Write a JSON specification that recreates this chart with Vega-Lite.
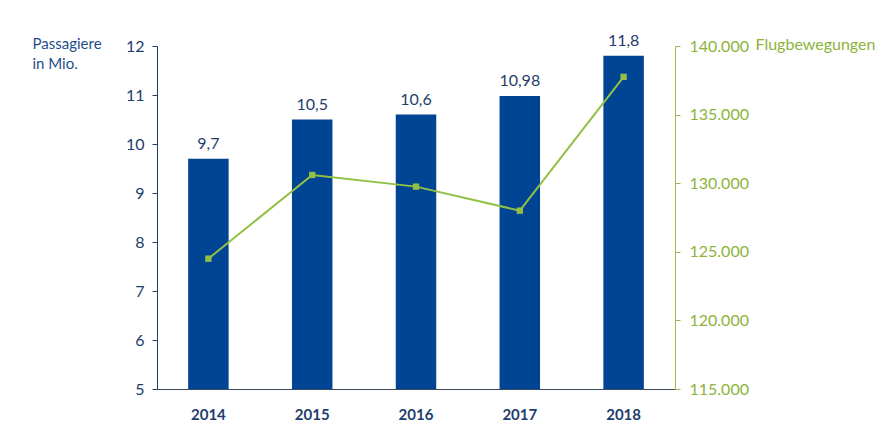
{
  "$schema": "https://vega.github.io/schema/vega-lite/v6.json",
  "autosize": "none",
  "width": 518,
  "height": 343,
  "padding": {"left": 157, "top": 46, "right": 212, "bottom": 47},
  "background": "white",
  "data": {
    "values": [
      {"Jahr": "2014", "Passagiere": 9.7, "Flugbewegungen": 124500},
      {"Jahr": "2015", "Passagiere": 10.5, "Flugbewegungen": 130600},
      {"Jahr": "2016", "Passagiere": 10.6, "Flugbewegungen": 129750},
      {"Jahr": "2017", "Passagiere": 10.98, "Flugbewegungen": 128000},
      {"Jahr": "2018", "Passagiere": 11.8, "Flugbewegungen": 137750}
    ]
  },
  "encoding": {
    "x": {
      "field": "Jahr",
      "type": "nominal",
      "scale": {"paddingInner": 0.61, "paddingOuter": 0.3},
      "axis": {
        "title": null,
        "labelAngle": 0,
        "labelFontWeight": "bold",
        "labelFontSize": 15,
        "labelColor": "#1F3D6B",
        "labelPadding": 18,
        "ticks": false,
        "domainColor": "#3A4A5E",
        "domainWidth": 1
      }
    }
  },
  "layer": [
    {
      "layer": [
        {
          "mark": {"type": "bar", "color": "#004494"},
          "encoding": {
            "y": {
              "field": "Passagiere",
              "type": "quantitative",
              "scale": {"domain": [5, 12], "zero": false, "nice": false},
              "axis": {
                "orient": "left",
                "values": [5, 6, 7, 8, 9, 10, 11, 12],
                "grid": false,
                "labelFontSize": 16,
                "labelColor": "#1F3D6B",
                "labelPadding": 8,
                "tickSize": 5,
                "tickColor": "#1F3D6B",
                "domainColor": "#1F3D6B",
                "title": ["Passagiere", "in Mio."],
                "titleAngle": 0,
                "titleAlign": "left",
                "titleBaseline": "alphabetic",
                "titleX": -125,
                "titleY": 2,
                "titleLineHeight": 20,
                "titleFontSize": 15,
                "titleFontWeight": "normal",
                "titleColor": "#1F4E8C"
              }
            },
            "y2": {"datum": 5}
          }
        },
        {
          "mark": {"type": "text", "baseline": "bottom", "dy": -7, "fontSize": 16, "color": "#1F3D6B"},
          "encoding": {
            "y": {"field": "Passagiere", "type": "quantitative"},
            "text": {"field": "Passagiere", "type": "quantitative", "format": ".4~g"}
          }
        }
      ]
    },
    {
      "mark": {
        "type": "line",
        "color": "#92C046",
        "strokeWidth": 2,
        "point": {"shape": "square", "size": 40, "filled": true, "color": "#92C046"}
      },
      "encoding": {
        "y": {
          "field": "Flugbewegungen",
          "type": "quantitative",
          "scale": {"domain": [115000, 140000], "zero": false, "nice": false},
          "axis": {
            "orient": "right",
            "values": [115000, 120000, 125000, 130000, 135000, 140000],
            "format": ",d",
            "grid": false,
            "labelFontSize": 16,
            "labelColor": "#8DB33A",
            "labelPadding": 9,
            "tickSize": 5,
            "tickColor": "#A8B24A",
            "domainColor": "#A8B24A",
            "title": "Flugbewegungen",
            "titleAngle": 0,
            "titleAlign": "left",
            "titleBaseline": "alphabetic",
            "titleX": 80,
            "titleY": 3,
            "titleFontSize": 16,
            "titleFontWeight": "normal",
            "titleColor": "#8DB33A"
          }
        }
      }
    }
  ],
  "resolve": {"scale": {"y": "independent"}},
  "config": {
    "font": "Lato",
    "view": {"stroke": null},
    "locale": {
      "number": {
        "decimal": ",",
        "thousands": ".",
        "grouping": [3],
        "currency": ["", " €"]
      }
    }
  }
}
